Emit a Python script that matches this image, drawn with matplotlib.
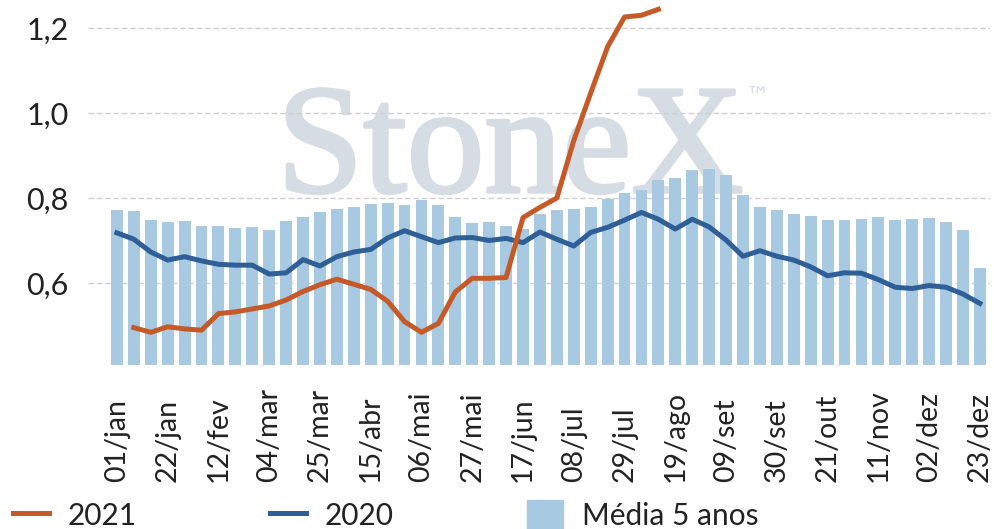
import numpy as np
import matplotlib
matplotlib.use("Agg")
import matplotlib.pyplot as plt
import matplotlib.patheffects as pe
from matplotlib.lines import Line2D
from matplotlib.patches import Patch

plt.rcParams['font.family'] = ['Lato', 'DejaVu Sans']

# rótulos do eixo x (a cada 3 semanas)
tick_labels = ['01/jan', '22/jan', '12/fev', '04/mar', '25/mar', '15/abr',
               '06/mai', '27/mai', '17/jun', '08/jul', '29/jul', '19/ago',
               '09/set', '30/set', '21/out', '11/nov', '02/dez', '23/dez']

# média 5 anos (barras, 52 semanas)
media5 = [0.773, 0.770, 0.749, 0.744, 0.746, 0.735, 0.735, 0.730, 0.732, 0.725,
          0.746, 0.756, 0.768, 0.775, 0.780, 0.787, 0.789, 0.784, 0.796, 0.784,
          0.756, 0.742, 0.744, 0.735, 0.728, 0.763, 0.772, 0.775, 0.780, 0.798,
          0.812, 0.820, 0.843, 0.848, 0.867, 0.869, 0.855, 0.808, 0.780, 0.773,
          0.763, 0.758, 0.749, 0.749, 0.751, 0.756, 0.749, 0.751, 0.753, 0.744,
          0.725, 0.636]

# 2020
s2020 = [0.719, 0.704, 0.674, 0.655, 0.663, 0.653, 0.645, 0.643, 0.643, 0.622,
         0.625, 0.656, 0.641, 0.663, 0.674, 0.680, 0.707, 0.724, 0.710, 0.696,
         0.707, 0.708, 0.701, 0.706, 0.696, 0.721, 0.704, 0.688, 0.720, 0.732,
         0.749, 0.767, 0.751, 0.728, 0.751, 0.733, 0.702, 0.664, 0.677, 0.664,
         0.655, 0.639, 0.618, 0.625, 0.624, 0.609, 0.591, 0.588, 0.595, 0.591,
         0.575, 0.553]

# 2021 (começa na 2a semana)
s2021 = [0.496, 0.485, 0.498, 0.493, 0.490, 0.529, 0.533, 0.540, 0.547,
         0.561, 0.581, 0.597, 0.610, 0.598, 0.586, 0.558, 0.510, 0.485, 0.506,
         0.580, 0.612, 0.612, 0.614, 0.755, 0.779, 0.801, 0.936, 1.048, 1.157,
         1.227, 1.231, 1.245]

x = np.arange(len(media5))
x21 = np.arange(1, 1 + len(s2021))

fig = plt.figure(figsize=(9.95, 5.29), dpi=100)
ax = fig.add_axes([0.0884, 0.310, 0.9066, 0.690])

ax.bar(x, media5, width=0.7, color='#a7c9e2', zorder=2)
ax.plot(x, s2020, color='#2e5f96', lw=3.6, zorder=4, solid_joinstyle='round')
ax.plot(x21, s2021, color='#c55a28', lw=3.6, zorder=5, solid_joinstyle='round')

ax.set_ylim(0.408, 1.267)
ax.set_xlim(-1.71, 51.6)
ax.set_yticks([0.6, 0.8, 1.0, 1.2])
ax.set_yticklabels(['0,6', '0,8', '1,0', '1,2'])
ax.yaxis.grid(True, color='#cfcfcf', ls=(0, (4, 2)), lw=1.0)
ax.set_axisbelow(True)

ax.set_xticks(x[::3])
ax.set_xticklabels(tick_labels, rotation=90)
for lb in ax.get_xticklabels():
    lb.set_va('bottom')
ax.tick_params(axis='x', length=0, pad=84, labelsize=20.5, colors='#222222')
ax.tick_params(axis='y', length=0, pad=14, labelsize=22, colors='#222222')
for sp in ax.spines.values():
    sp.set_visible(False)

# marca d'água (atrás das barras e linhas)
wm = ax.text(0.468, 0.474, 'StoneX', transform=ax.transAxes, family='Liberation Serif',
             fontsize=112, color='#d6dce3', ha='center', va='baseline', zorder=0.2)
wm.set_path_effects([pe.withStroke(linewidth=2.5, foreground='#d6dce3')])
ax.text(0.729, 0.768, '™', transform=ax.transAxes, family='DejaVu Sans', fontsize=17,
        color='#d6dce3', ha='left', va='top', zorder=0.2)

handles = [Line2D([], [], color='#c55a28', lw=3.6),
           Line2D([], [], color='#2e5f96', lw=3.6),
           Patch(color='#a7c9e2')]
fig.legend(handles, ['2021', '2020', 'Média 5 anos'], ncol=3, frameon=False,
           loc='center left', bbox_to_anchor=(-0.002, 0.026), fontsize=21.5,
           handlelength=1.22, handleheight=1.22, handletextpad=0.62,
           columnspacing=4.45, borderpad=0, labelcolor='#222222')

fig.savefig('out.png', dpi=100)
